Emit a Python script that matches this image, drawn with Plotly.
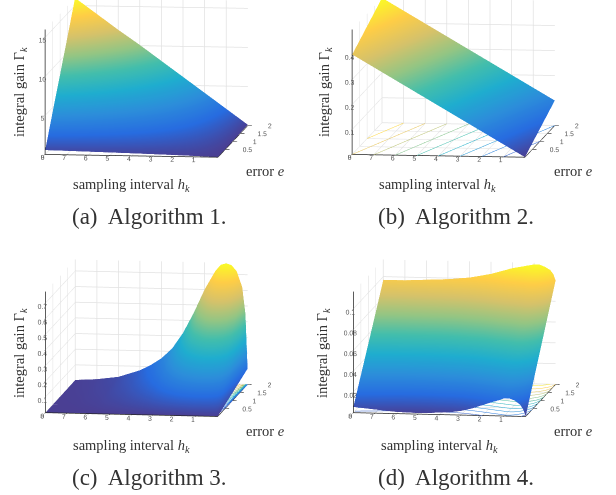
import math
import plotly.graph_objects as go

E = [0, 0.5, 1, 1.5, 2]
H_COARSE = [0, 1, 2, 3, 4, 5, 6, 7, 8]
H_FINE = [0, 0.1, 0.25, 0.5, 0.75, 1, 1.25, 1.5, 2, 2.5, 3, 3.5, 4, 4.5, 5, 6, 7, 8]

# each row: one sampling interval, values for error e = 0, .5, 1, 1.5, 2
GAIN_1 = [
    [0.00, 0.02, 0.04, 0.06, 0.10],
    [0.10, 0.60, 1.10, 1.60, 2.10],
    [0.18, 1.15, 2.15, 3.15, 4.10],
    [0.25, 1.70, 3.20, 4.65, 6.10],
    [0.32, 2.25, 4.20, 6.15, 8.10],
    [0.38, 2.80, 5.20, 7.65, 10.1],
    [0.44, 3.35, 6.25, 9.15, 12.0],
    [0.50, 3.90, 7.25, 10.6, 14.0],
    [0.55, 4.45, 8.25, 12.1, 16.0],
]
GAIN_2 = [
    [0.00, 0.025, 0.05, 0.075, 0.10],
    [0.05, 0.075, 0.10, 0.125, 0.15],
    [0.10, 0.125, 0.15, 0.175, 0.20],
    [0.15, 0.175, 0.20, 0.225, 0.25],
    [0.20, 0.225, 0.25, 0.275, 0.30],
    [0.25, 0.275, 0.30, 0.325, 0.35],
    [0.30, 0.325, 0.35, 0.375, 0.40],
    [0.35, 0.375, 0.40, 0.425, 0.45],
    [0.40, 0.425, 0.45, 0.475, 0.50],
]
GAIN_3 = [
    [0, 0.025, 0.050, 0.075, 0.10],
    [0, 0.112, 0.225, 0.340, 0.45],
    [0, 0.155, 0.310, 0.465, 0.62],
    [0, 0.180, 0.360, 0.540, 0.72],
    [0, 0.190, 0.380, 0.570, 0.76],
    [0, 0.192, 0.385, 0.578, 0.77],
    [0, 0.190, 0.380, 0.570, 0.76],
    [0, 0.180, 0.360, 0.540, 0.72],
    [0, 0.150, 0.300, 0.450, 0.60],
    [0, 0.112, 0.225, 0.338, 0.45],
    [0, 0.080, 0.160, 0.240, 0.32],
    [0, 0.055, 0.110, 0.165, 0.22],
    [0, 0.039, 0.078, 0.116, 0.155],
    [0, 0.028, 0.055, 0.083, 0.11],
    [0, 0.019, 0.038, 0.056, 0.075],
    [0, 0.008, 0.015, 0.022, 0.03],
    [0, 0.003, 0.006, 0.009, 0.012],
    [0, 0.001, 0.002, 0.003, 0.004],
]
GAIN_4 = [
    [0.0000, 0.0250, 0.0500, 0.0750, 0.100],
    [0.0060, 0.0310, 0.0560, 0.0810, 0.106],
    [0.0110, 0.0360, 0.0605, 0.0850, 0.110],
    [0.0150, 0.0395, 0.0640, 0.0885, 0.113],
    [0.0170, 0.0415, 0.0660, 0.0905, 0.115],
    [0.0170, 0.0415, 0.0660, 0.0905, 0.115],
    [0.0150, 0.0400, 0.0645, 0.0890, 0.114],
    [0.0135, 0.0385, 0.0630, 0.0880, 0.113],
    [0.0100, 0.0350, 0.0605, 0.0860, 0.111],
    [0.0065, 0.0320, 0.0570, 0.0830, 0.108],
    [0.0040, 0.0290, 0.0545, 0.0800, 0.105],
    [0.0025, 0.0275, 0.0530, 0.0780, 0.103],
    [0.0020, 0.0270, 0.0515, 0.0760, 0.101],
    [0.0012, 0.0260, 0.0505, 0.0750, 0.100],
    [0.0010, 0.0255, 0.0500, 0.0745, 0.099],
    [0.0016, 0.0256, 0.0500, 0.0740, 0.098],
    [0.0035, 0.0270, 0.0500, 0.0735, 0.097],
    [0.0055, 0.0285, 0.0510, 0.0740, 0.097],
]
H_TICKS = [1, 2, 3, 4, 5, 6, 7, 8]
E_TICKS = [0.5, 1, 1.5, 2]
Z_TICKS_1 = [0, 5, 10, 15]
Z_TICKS_2 = [0, 0.1, 0.2, 0.3, 0.4]
Z_TICKS_3 = [0, 0.1, 0.2, 0.3, 0.4, 0.5, 0.6, 0.7]
Z_TICKS_4 = [0, 0.02, 0.04, 0.06, 0.08, 0.1]
CAPTIONS = ["(a)  Algorithm 1.", "(b)  Algorithm 2.", "(c)  Algorithm 3.", "(d)  Algorithm 4."]
XLABEL = "sampling interval <i>h</i><sub><i>k</i></sub>"
ELABEL = "error <i>e</i>"
ZLABEL = "integral gain \u0393<sub><i>k</i></sub>"

W, PH = 616, 495
PARULA = [[0, "#4a3f93"], [0.125, "#276ce0"], [0.25, "#2c8eda"], [0.375, "#1fadcf"],
          [0.5, "#43beac"], [0.625, "#93c584"], [0.75, "#d6c26a"], [0.875, "#fecd47"], [1, "#fafb26"]]

R = 1.0
WIN_W, WIN_H = 340, 350
S = WIN_H / (2 * R)
TOP_VIEW = dict(az=-83.0, el=7.5, ax=0.995, ay=1.40, az_box=0.72)
LOW_VIEW = dict(az=-81.8, el=8.9, ax=0.995, ay=1.20, az_box=0.70)

panels = [
    dict(h=H_COARSE, z=GAIN_1, ztop=16, ticks=Z_TICKS_1, wx=0, wy=0, bx=146.5, by=77.5, cont=None, view=TOP_VIEW,
         zl=(20, 92), xl=(131, 185), el=(265, 170.5), cap=(149, 217)),
    dict(h=H_COARSE, z=GAIN_2, ztop=0.5, ticks=Z_TICKS_2, wx=276, wy=0, bx=453.5, by=77.5, cont=(0.05, 0.45, 0.05), view=TOP_VIEW,
         zl=(325, 92), xl=(437, 185), el=(573, 170.5), cap=(456, 217)),
    dict(h=H_FINE, z=GAIN_3, ztop=0.773, ticks=Z_TICKS_3, wx=0, wy=145, bx=146.5, by=338, cont=(0.05, 0.75, 0.05), view=LOW_VIEW,
         zl=(20, 353), xl=(131, 446), el=(265, 431), cap=(149, 477)),
    dict(h=H_FINE, z=GAIN_4, ztop=0.1165, ticks=Z_TICKS_4, wx=276, wy=145, bx=454.5, by=338, cont=(0.01, 0.11, 0.01), view=LOW_VIEW,
         zl=(323, 353), xl=(439, 446), el=(573, 431), cap=(456, 477)),
]

fig = go.Figure()
layout = dict(width=W, height=PH, margin=dict(l=0, r=0, t=0, b=0), paper_bgcolor="white",
              showlegend=False, annotations=[])

ax_common = dict(showbackground=False, showline=True, linecolor="#262626", linewidth=1.5,
                 gridcolor="#e2e2e2", gridwidth=1.5, zeroline=False, showspikes=False,
                 ticks="outside", ticklen=4, tickcolor="#262626", tickwidth=1.5, tickangle=0,
                 tickfont=dict(family="Liberation Sans", size=9, color="#555555"),
                 title=dict(text=""))


def note(text, xy, size, angle=0):
    layout["annotations"].append(dict(
        text=text, x=xy[0] / W, y=1 - xy[1] / PH, xref="paper", yref="paper",
        xanchor="center", yanchor="middle", showarrow=False, textangle=angle,
        font=dict(family="Liberation Serif", size=size, color="#333333")))


for i, p in enumerate(panels):
    sid = "scene" if i == 0 else f"scene{i+1}"
    zmax = max(max(r) for r in p["z"])
    if p["cont"]:
        s, e, st = p["cont"]
        cont = dict(z=dict(show=True, start=s, end=e, size=st, usecolormap=True,
                           project=dict(z=True), width=2, highlight=False),
                    x=dict(highlight=False), y=dict(highlight=False))
    else:
        cont = dict(z=dict(highlight=False), x=dict(highlight=False), y=dict(highlight=False))
    fig.add_trace(go.Surface(x=p["h"], y=E, z=[list(c) for c in zip(*p["z"])], scene=sid,
                             colorscale=PARULA, cmin=0, cmax=zmax, showscale=False, contours=cont,
                             lighting=dict(ambient=1, diffuse=0, specular=0, roughness=1, fresnel=0),
                             hoverinfo="skip"))
    x0, x1 = p["wx"], p["wx"] + WIN_W
    y0, y1 = p["wy"], p["wy"] + WIN_H
    v = p["view"]
    A, L = math.radians(v["az"]), math.radians(v["el"])
    d = (math.cos(A) * math.cos(L), math.sin(A) * math.cos(L), math.sin(L))
    dz = -((y0 + y1) / 2 - p["by"]) / S / math.cos(L)
    dr = ((x0 + x1) / 2 - p["bx"]) / S
    cxw, cyw = dr * -math.sin(A), dr * math.cos(A)
    layout[sid] = dict(
        domain=dict(x=[x0 / W, x1 / W], y=[1 - y1 / PH, 1 - y0 / PH]),
        aspectmode="manual", aspectratio=dict(x=v["ax"], y=v["ay"], z=v["az_box"]),
        camera=dict(projection=dict(type="orthographic"),
                    up=dict(x=0, y=0, z=1),
                    center=dict(x=cxw, y=cyw, z=dz),
                    eye=dict(x=cxw + R * d[0], y=cyw + R * d[1], z=dz + R * d[2])),
        xaxis=dict(ax_common, range=[8, 0], tickvals=H_TICKS),
        yaxis=dict(ax_common, range=[0, 2], tickvals=E_TICKS, ticktext=["0.5", "1", "1.5", "2"]),
        zaxis=dict(ax_common, range=[0, p["ztop"]], tickvals=p["ticks"]),
    )
    note(ZLABEL, p["zl"], 14.5, -90)
    note(XLABEL, p["xl"], 14.5)
    note(ELABEL, p["el"], 14.5)
    note(CAPTIONS[i], p["cap"], 23)

fig.update_layout(**layout)
fig.write_html("out.html", config={"displayModeBar": False},
               post_script="document.body.style.margin='0';")
